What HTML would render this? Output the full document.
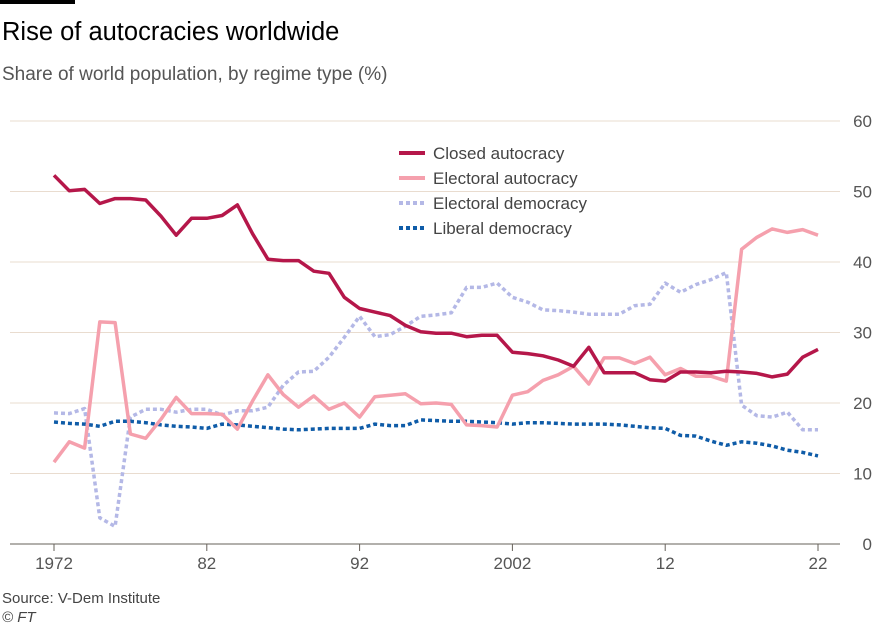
<!DOCTYPE html>
<html><head><meta charset="utf-8"><style>
body{margin:0;background:#fff;font-family:"Liberation Sans",sans-serif;}
#wrap{position:relative;width:875px;height:625px;overflow:hidden;}
</style></head><body><div id="wrap">
<svg width="875" height="625">
<rect x="0" y="0" width="75" height="4" fill="#000"/>
<text x="2" y="40" font-size="25.5" fill="#000">Rise of autocracies worldwide</text>
<text x="2" y="80" font-size="19" fill="#555">Share of world population, by regime type (%)</text>
<text x="2" y="603" font-size="15" fill="#444">Source: V-Dem Institute</text>
<text x="2" y="622" font-size="15" font-style="italic" fill="#444">© FT</text>
<g id="grid"></g><g id="series"></g>
<g>
<line x1="399" y1="153" x2="425" y2="153" stroke="#b5174a" stroke-width="4"/>
<text x="433" y="159" font-size="17" fill="#444">Closed autocracy</text>
<line x1="399" y1="178" x2="425" y2="178" stroke="#f5a0ad" stroke-width="4"/>
<text x="433" y="184" font-size="17" fill="#444">Electoral autocracy</text>
<line x1="399" y1="203" x2="425" y2="203" stroke="#b4b8e6" stroke-width="4" stroke-dasharray="4,3"/>
<text x="433" y="209" font-size="17" fill="#444">Electoral democracy</text>
<line x1="399" y1="228" x2="425" y2="228" stroke="#0f5ca8" stroke-width="4" stroke-dasharray="4,3"/>
<text x="433" y="234" font-size="17" fill="#444">Liberal democracy</text>
</g>
</svg></div>
<script>
const years=[];for(let y=1972;y<=2022;y++)years.push(y);
const yTicks=[0,10,20,30,40,50,60];
const xTickYears=[1972,1982,1992,2002,2012,2022];
const xTickLabels=["1972","82","92","2002","12","22"];
const closedAutocracy=[52.3,50.1,50.3,48.3,49.0,49.0,48.8,46.5,43.8,46.2,46.2,46.6,48.1,44.0,40.4,40.2,40.2,38.7,38.4,35.0,33.4,32.9,32.4,31.0,30.1,29.9,29.9,29.4,29.6,29.6,27.2,27.0,26.7,26.1,25.2,27.9,24.3,24.3,24.3,23.3,23.1,24.4,24.4,24.3,24.5,24.4,24.2,23.7,24.1,26.5,27.6];
const electoralAutocracy=[11.6,14.5,13.6,31.5,31.4,15.6,15.0,17.7,20.8,18.5,18.5,18.4,16.3,20.3,24.0,21.2,19.4,21.0,19.1,20.0,18.0,20.9,21.1,21.3,19.9,20.0,19.8,16.9,16.8,16.6,21.1,21.6,23.2,24.0,25.2,22.7,26.4,26.4,25.6,26.5,24.0,24.9,23.8,23.8,23.1,41.8,43.5,44.7,44.2,44.6,43.8];
const electoralDemocracy=[18.6,18.5,19.2,3.7,2.5,18.0,19.1,19.1,18.7,19.1,19.1,18.3,18.9,18.9,19.4,22.5,24.4,24.5,26.5,29.3,32.3,29.4,29.7,30.9,32.3,32.5,32.8,36.4,36.4,37.0,35.0,34.3,33.2,33.1,32.9,32.6,32.6,32.6,33.8,34.0,37.0,35.7,36.8,37.5,38.5,19.7,18.2,18.0,18.7,16.2,16.2];
const liberalDemocracy=[17.3,17.1,17.0,16.7,17.4,17.4,17.2,16.9,16.7,16.6,16.4,17.0,16.9,16.7,16.5,16.3,16.2,16.3,16.4,16.4,16.4,17.0,16.8,16.8,17.6,17.5,17.4,17.4,17.3,17.2,17.0,17.2,17.2,17.1,17.0,17.0,17.0,16.9,16.7,16.5,16.4,15.4,15.3,14.6,14.0,14.5,14.3,13.9,13.3,13.0,12.5];
const NS='http://www.w3.org/2000/svg';
const xS=y=>54+(y-1972)*(818-54)/50;
const yS=v=>544-v*(544-121)/60;
function mk(t,a,p){const e=document.createElementNS(NS,t);for(const k in a)e.setAttribute(k,a[k]);p.appendChild(e);return e;}
const grid=document.getElementById('grid');
yTicks.forEach(v=>{
 const l=mk('line',{x1:10,x2:840,y1:yS(v),y2:yS(v),stroke:v===0?'#66605a':'#e9dccf','stroke-width':1},grid);
 
 
 const t=mk('text',{x:872,y:yS(v)+6,'font-size':17,fill:'#555','text-anchor':'end'},grid);
 t.textContent=v;
 
 
});
xTickYears.forEach((yr,i)=>{
 const l=mk('line',{x1:xS(yr),x2:xS(yr),y1:544,y2:551,stroke:'#66605a'},grid);
 
 
 const t=mk('text',{x:xS(yr),y:569,'font-size':17,fill:'#555','text-anchor':'middle'},grid);
 t.textContent=xTickLabels[i];
 
 
});
const sg=document.getElementById('series');
function line(data,color,dash,name){
 const d=data.map((v,i)=>(i?'L':'M')+xS(years[i]).toFixed(1)+','+yS(v).toFixed(1)).join('');
 const a={d:d,fill:'none',stroke:color,'stroke-width':3.5,'stroke-linejoin':'round'};
 if(dash)a['stroke-dasharray']='4,3';
 const p=mk('path',a,sg);
 
 
}
line(electoralDemocracy,'#b4b8e6',true,'line-electoral-democracy');
line(liberalDemocracy,'#0f5ca8',true,'line-liberal-democracy');
line(electoralAutocracy,'#f5a0ad',false,'line-electoral-autocracy');
line(closedAutocracy,'#b5174a',false,'line-closed-autocracy');
</script></body></html>
